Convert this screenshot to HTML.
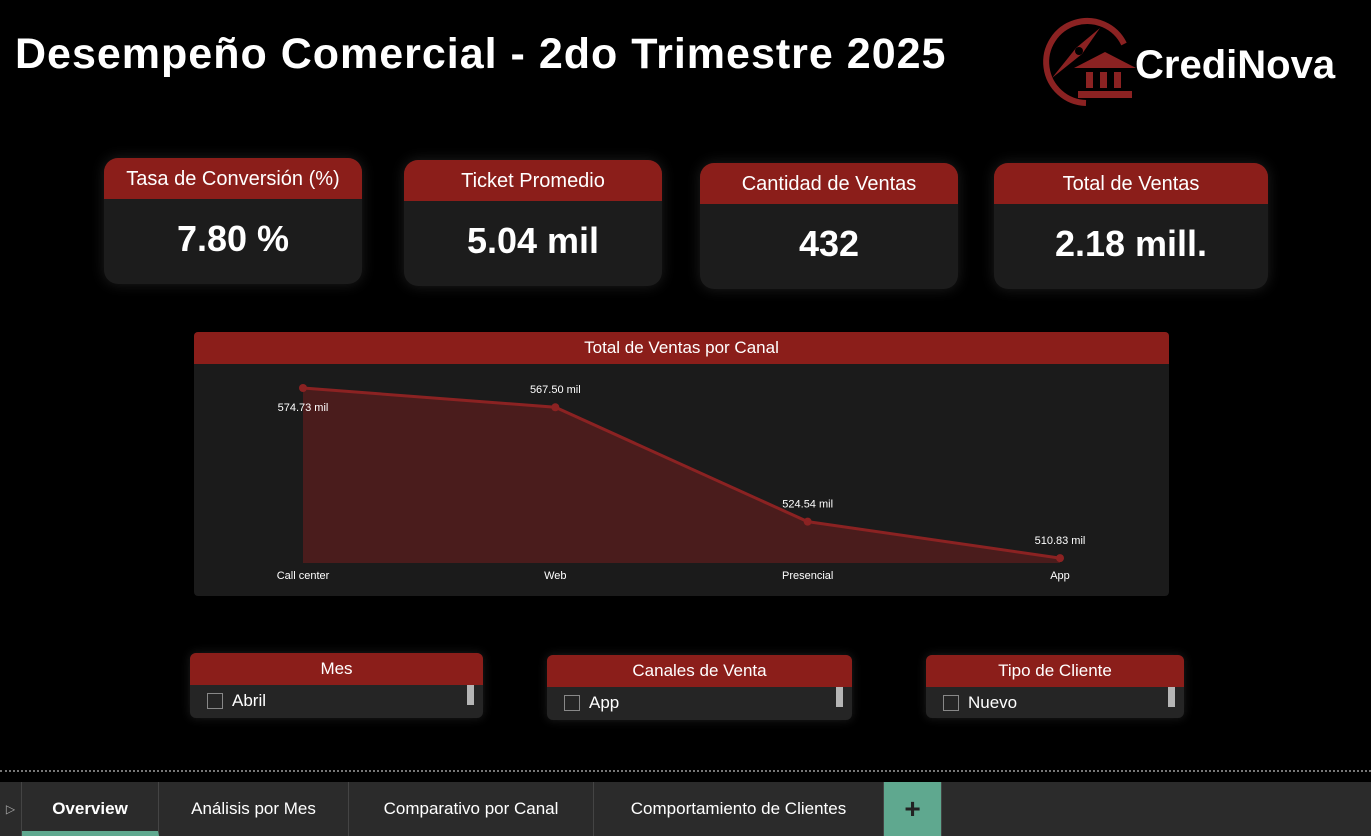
<!DOCTYPE html>
<html><head><meta charset="utf-8"><style>
*{margin:0;padding:0;box-sizing:border-box}
body{width:1371px;height:836px;background:#000;position:relative;overflow:hidden;font-family:"Liberation Sans","DejaVu Sans",sans-serif;color:#fff}
.abs{position:absolute}
.card{position:absolute;background:#1c1c1c;border-radius:14px;overflow:hidden;box-shadow:0 0 14px rgba(60,60,60,.5)}
.card .hd{background:#8b1e1a;height:41px;text-align:center;font-size:20px;line-height:43px}
.card .val{text-align:center;font-size:36px;font-weight:bold;line-height:80px;letter-spacing:0px}
.sl{position:absolute;background:#252525;border-radius:6px;overflow:hidden;box-shadow:0 0 10px rgba(60,60,60,.5)}
.sl .hd{background:#8b1e1a;height:32px;text-align:center;font-size:17px;line-height:32px}
.sl .it{position:relative;height:33px;font-size:17px;line-height:32px;padding-left:42px}
.sl .cb{position:absolute;left:17px;top:8px;width:16px;height:16px;border:1px solid #888}
.sl .sb{position:absolute;right:9px;top:0;width:7px;height:20px;background:#b5b5b5}
.tab{position:absolute;top:782px;height:54px;line-height:54px;font-size:17px;text-align:center;border-right:1px solid #444}
</style></head><body>
<div class="abs" style="left:15px;top:30px;font-size:43px;font-weight:bold;letter-spacing:1px">Desempeño Comercial - 2do Trimestre 2025</div>
<svg class="abs" style="left:1030px;top:14px" width="320" height="96">
<path d="M56 89 A41 41 0 1 1 94 30" fill="none" stroke="#8b2222" stroke-width="6"/>
<polygon points="22,64 46,34 52,40" fill="#8b2222"/>
<polygon points="46,34 70,14 52,40" fill="#8b2222"/>
<circle cx="49" cy="37" r="4" fill="#000"/>
<polygon points="44,54 75,38 106,54" fill="#8b2222"/>
<rect x="56" y="58" width="7" height="16" fill="#8b2222"/><rect x="70" y="58" width="7" height="16" fill="#8b2222"/><rect x="84" y="58" width="7" height="16" fill="#8b2222"/>
<rect x="48" y="77" width="54" height="7" fill="#8b2222"/>
<text x="105" y="64" fill="#fff" font-size="40" font-weight="bold" font-family="Liberation Sans,sans-serif">CrediNova</text>
</svg>
<div class="card" style="left:104px;top:158px;width:258px;height:126px"><div class="hd">Tasa de Conversión (%)</div><div class="val">7.80 %</div></div>
<div class="card" style="left:404px;top:160px;width:258px;height:126px"><div class="hd">Ticket Promedio</div><div class="val">5.04 mil</div></div>
<div class="card" style="left:700px;top:163px;width:258px;height:126px"><div class="hd">Cantidad de Ventas</div><div class="val">432</div></div>
<div class="card" style="left:994px;top:163px;width:274px;height:126px"><div class="hd">Total de Ventas</div><div class="val">2.18 mill.</div></div>

<div class="abs" style="left:194px;top:332px;width:975px;height:264px;background:#1b1b1b;border-radius:4px;overflow:hidden">
<div style="background:#8b1e1a;height:32px;text-align:center;font-size:17px;line-height:32px">Total de Ventas por Canal</div>
</div>
<svg id="chart" class="abs" style="left:0;top:0" width="1371" height="836"></svg>

<div class="sl" style="left:190px;top:653px;width:293px;height:65px"><div class="hd">Mes</div><div class="it"><div class="cb"></div>Abril<div class="sb"></div></div></div>
<div class="sl" style="left:547px;top:655px;width:305px;height:65px"><div class="hd">Canales de Venta</div><div class="it"><div class="cb"></div>App<div class="sb"></div></div></div>
<div class="sl" style="left:926px;top:655px;width:258px;height:63px"><div class="hd">Tipo de Cliente</div><div class="it"><div class="cb"></div>Nuevo<div class="sb"></div></div></div>

<div class="abs" style="left:0;top:770px;width:1371px;border-top:2px dotted #777"></div>
<div class="abs" style="left:0;top:782px;width:1371px;height:54px;background:#2b2b2b"></div>
<div class="tab" style="left:0;width:22px;color:#aaa;font-size:12px">▷</div>
<div class="tab" style="left:22px;width:137px;font-weight:bold;border-bottom:5px solid #5fa88f;line-height:54px">Overview</div>
<div class="tab" style="left:159px;width:190px">Análisis por Mes</div>
<div class="tab" style="left:349px;width:245px">Comparativo por Canal</div>
<div class="tab" style="left:594px;width:290px">Comportamiento de Clientes</div>
<div class="tab" style="left:884px;width:58px;background:#5fa88f;color:#222;font-size:28px;font-weight:bold">+</div>

<script>
const categories=["Call center","Web","Presencial","App"];
const salesValues=[574.73,567.50,524.54,510.83];
const valueLabels=["574.73 mil","567.50 mil","524.54 mil","510.83 mil"];
const labelAbove=[false,true,true,true];
const svg=document.getElementById('chart');
const NS='http://www.w3.org/2000/svg';
const x0=303,x1=1060,yBase=563,yTop=388,vMin=509,vMax=574.73;
function xs(i){return x0+i*(x1-x0)/(categories.length-1);}
function ys(v){return yBase-(v-vMin)*(yBase-yTop)/(vMax-vMin);}
function mk(t,a){const e=document.createElementNS(NS,t);for(const k in a)e.setAttribute(k,a[k]);svg.appendChild(e);return e;}
let d='M'+xs(0)+','+yBase;
salesValues.forEach((v,i)=>{d+=' L'+xs(i)+','+ys(v);});
d+=' L'+xs(salesValues.length-1)+','+yBase+' Z';
const area=mk('path',{d:d,fill:'#4a1c1c'});


const line=mk('polyline',{points:salesValues.map((v,i)=>xs(i)+','+ys(v)).join(' '),fill:'none',stroke:'#8b2222','stroke-width':3});


salesValues.forEach((v,i)=>{
 const c=mk('circle',{cx:xs(i),cy:ys(v),r:4,fill:'#8b2222'});
 
 
 const ly=labelAbove[i]?ys(v)-14:ys(v)+23;
 const t=mk('text',{x:xs(i),y:ly,fill:'#fff','font-size':11,'text-anchor':'middle'});
 t.textContent=valueLabels[i];
 
 
 const xl=mk('text',{x:xs(i),y:579,fill:'#fff','font-size':11,'text-anchor':'middle'});
 xl.textContent=categories[i];
 
 
});
</script>
</body></html>
